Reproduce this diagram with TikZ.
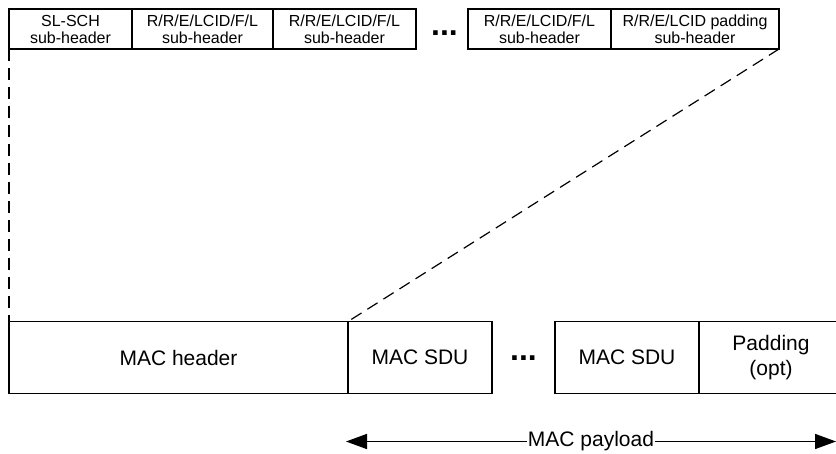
\documentclass[tikz,border=0pt]{standalone}
\usepackage{fontspec}
\setmainfont{Liberation Sans}
\usetikzlibrary{arrows.meta}
\begin{document}
\begin{tikzpicture}[x=1pt,y=-1pt,
  box/.style={draw,line width=1.3pt,inner sep=0pt,outer sep=0pt,align=center},
  small/.style={font=\fontsize{16}{17}\selectfont},
  big/.style={font=\fontsize{21}{24.5}\selectfont},
  guide/.style={line width=1.2pt,dash pattern=on 12pt off 7pt},
  dotsnode/.style={font=\fontsize{32}{32}\selectfont\bfseries,inner sep=0pt,anchor=base},
  payarrow/.style={line width=1.6pt,{Triangle[length=21pt,width=15pt]}-{Triangle[length=21pt,width=15pt]}}]
\useasboundingbox (0,0) rectangle (836,454);
\clip (0,0) rectangle (836,454);
% top sub-headers
\node[box,small,minimum width=123pt,minimum height=40pt] (h1) at (70.5,29) {SL-SCH\\sub-header};
\node[box,small,minimum width=141pt,minimum height=40pt] (h2) at (202.5,29) {R/R/E/LCID/F/L\\sub-header};
\node[box,small,minimum width=143pt,minimum height=40pt] (h3) at (344.5,29) {R/R/E/LCID/F/L\\sub-header};
\node[dotsnode] (d1) at (444.5,35.7) {...};
\node[box,small,minimum width=143pt,minimum height=40pt] (h4) at (539.5,29) {R/R/E/LCID/F/L\\sub-header};
\node[box,small,minimum width=168pt,minimum height=40pt] (h5) at (695,29) {R/R/E/LCID padding\\sub-header};
% bottom PDU
\node[box,big,minimum width=339pt,minimum height=72pt] (b1) at (178.5,357.5) {MAC header};
\node[box,big,minimum width=144pt,minimum height=72pt] (b2) at (420,357.5) {MAC SDU};
\node[dotsnode] (d2) at (523.5,361) {...};
\node[box,big,minimum width=144pt,minimum height=72pt] (b3) at (627,357.5) {MAC SDU};
\node[box,big,minimum width=144pt,minimum height=72pt] (b4) at (771,357.5) {Padding\\(opt)};
% guides
\draw[guide] (h1.south west) -- (b1.north west);
\draw[guide] (h5.south east) -- (b2.north west);
% payload arrow
\coordinate (pl) at (346,441.5);
\coordinate (pr) at (836,441.5);
\draw[payarrow] (pl) -- node[big,fill=white,inner sep=1pt] (pay) {MAC payload} (pr);
\end{tikzpicture}
\end{document}
